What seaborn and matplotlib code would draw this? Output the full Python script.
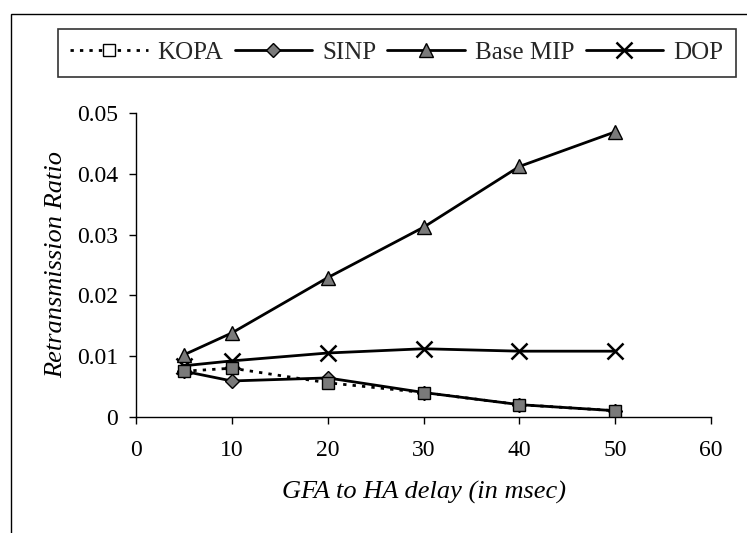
import matplotlib
matplotlib.use("Agg")
import matplotlib.pyplot as plt
import seaborn as sns
import pandas as pd
from matplotlib.patches import Rectangle
from matplotlib.lines import Line2D

delay = [5, 10, 20, 30, 40, 50]
kopa = [0.0075, 0.0080, 0.0056, 0.0040, 0.0020, 0.0010]
sinp = [0.0075, 0.0059, 0.0064, 0.0040, 0.0020, 0.0010]
base_mip = [0.0102, 0.0138, 0.0229, 0.0312, 0.0412, 0.0469]
dop = [0.0084, 0.0092, 0.0105, 0.0112, 0.0108, 0.0108]
series_names = ["KOPA", "SINP", "Base MIP", "DOP"]
x_ticks = [0, 10, 20, 30, 40, 50, 60]
y_ticks = [0, 0.01, 0.02, 0.03, 0.04, 0.05]
y_tick_labels = ["0", "0.01", "0.02", "0.03", "0.04", "0.05"]

sns.set_theme(style="ticks")
plt.rcParams["font.family"] = ["Liberation Serif", "DejaVu Serif"]

df = pd.DataFrame({
    "delay": delay * 4,
    "ratio": kopa + sinp + base_mip + dop,
    "series": sum([[n] * len(delay) for n in series_names], []),
})

fig = plt.figure(figsize=(7.47, 5.33), dpi=100)
ax = fig.add_axes([0.182, 0.218, 0.770, 0.570])

GRAY = "#7a7a7a"
styles = {
    "KOPA": dict(ls=(0, (1.2, 2.2)), marker="s", mfc=GRAY, ms=8),
    "SINP": dict(ls="-", marker="D", mfc=GRAY, ms=7.5),
    "Base MIP": dict(ls="-", marker="^", mfc=GRAY, ms=10),
    "DOP": dict(ls="-", marker="x", mfc="black", ms=11),
}
order = ["DOP", "Base MIP", "SINP", "KOPA"]
for name in order:
    st = styles[name]
    sub = df[df["series"] == name]
    sns.lineplot(data=sub, x="delay", y="ratio", ax=ax, color="black",
                 linestyle=st["ls"], linewidth=2.0, marker=st["marker"],
                 markersize=st["ms"], markerfacecolor=st["mfc"],
                 markeredgecolor="black",
                 markeredgewidth=1.8 if name == "DOP" else 1.0,
                 legend=False, zorder=3 if name == "KOPA" else 2)

ax.set_xlim(0, 60)
ax.set_ylim(0, 0.05)
ax.set_xticks(x_ticks)
ax.set_yticks(y_ticks)
ax.set_yticklabels(y_tick_labels)
ax.tick_params(axis="both", labelsize=17, direction="out", length=5,
               width=1.0, color="black", labelcolor="black")
ax.tick_params(axis="x", pad=12)
ax.tick_params(axis="y", pad=8)
for s in ["top", "right"]:
    ax.spines[s].set_visible(False)
for s in ["left", "bottom"]:
    ax.spines[s].set_color("black")
    ax.spines[s].set_linewidth(1.0)
ax.set_xlabel("GFA to HA delay (in msec)", fontsize=19, style="italic",
              labelpad=14, color="black")
ax.set_ylabel("Retransmission Ratio", fontsize=19, style="italic",
              labelpad=7, color="black")

handles = []
for name in series_names:
    st = styles[name]
    handles.append(Line2D([], [], color="black", linestyle=st["ls"],
                          linewidth=2.0, marker=st["marker"],
                          markersize=st["ms"],
                          markerfacecolor="white" if name == "KOPA" else st["mfc"],
                          markeredgecolor="black",
                          markeredgewidth=1.8 if name == "DOP" else 1.0))
leg = fig.legend(handles, series_names,
                 loc="center", bbox_to_anchor=(0.531, 0.901), ncol=4,
                 frameon=True, fancybox=False, edgecolor="black",
                 fontsize=18, handlelength=3.1, handletextpad=0.4,
                 columnspacing=0.45, borderpad=0.5, borderaxespad=0)
leg.get_frame().set_linewidth(1.2)

fig.patches.append(Rectangle((11 / 747, -0.05), 1.0, 1 - 14 / 533 + 0.05,
                             transform=fig.transFigure, fill=False,
                             edgecolor="black", linewidth=1.0))

fig.savefig("out.png", dpi=100)
